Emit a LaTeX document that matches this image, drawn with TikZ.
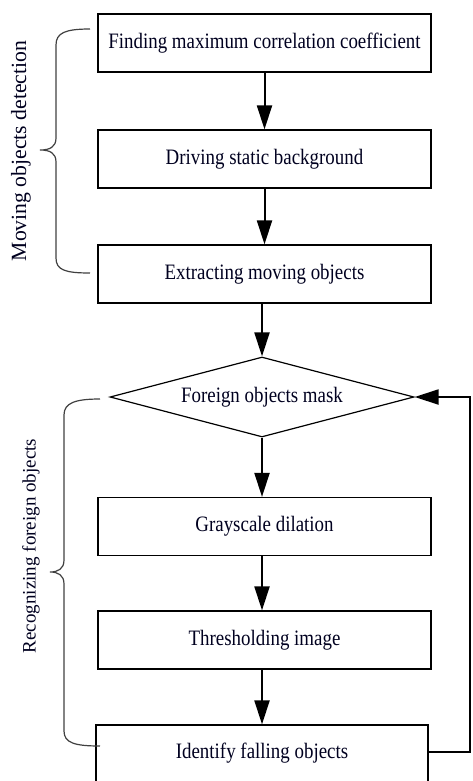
\documentclass[tikz,border=0pt]{standalone}
\usepackage{fontspec}
\setmainfont{Liberation Serif}
\newfontfamily\condfont[FakeStretch=0.86]{Liberation Serif}
\usetikzlibrary{shapes.geometric,arrows.meta}
\begin{document}
\begin{tikzpicture}[x=1pt,y=1pt,
  txt/.style={font=\condfont\fontsize{22}{24}\selectfont, text=black!88!blue},
  stepbox/.style={txt, draw, line width=1.2pt, minimum width=333pt, minimum height=58pt, inner sep=0pt},
  decision/.style={txt, draw, line width=1.2pt, diamond, aspect=3.8, minimum width=304pt, minimum height=80pt, inner sep=0pt},
  flow/.style={line width=2pt, -{Triangle[length=24pt,width=15pt]}},
  brace/.style={line width=1.2pt, draw=black!75},
  side/.style={text=black!88!blue, rotate=90}]
\useasboundingbox (0,0) rectangle (472,-781);
\node[stepbox] (b1) at (264.5,-43) {Finding maximum correlation coefficient};
\node[stepbox] (b2) at (264.5,-159) {Driving static background};
\node[stepbox] (b3) at (264.5,-274) {Extracting moving objects};
\node[decision] (d) at (262,-397) {Foreign objects mask};
\node[stepbox] (b4) at (264.5,-526.5) {Grayscale dilation};
\node[stepbox] (b5) at (264.5,-640) {Thresholding image};
\node[stepbox, minimum width=332pt, minimum height=57pt] (b6) at (262,-753.5) {Identify falling objects};
\draw[flow] (b1) -- (b2);
\draw[flow] (b2) -- (b3);
\draw[flow] (b3.south -| d.north) -- (d.north);
\draw[flow] (d.south) -- (b4.north -| d.south);
\draw[flow] (b4.south -| d.south) -- (b5.north -| d.south);
\draw[flow] (b5.south -| d.south) -- (b6.north -| d.south);
\coordinate (r) at (470,0);
\draw[flow] (b6.east |- 0,-752) -- (r |- 0,-752) -- (r |- d.east) -- (d.east);
\draw[brace] (90,-29) .. controls (65,-29) and (56,-33) .. (56,-45) -- (56,-138) .. controls (56,-147) and (50,-150) .. (40,-150) .. controls (50,-150) and (56,-153) .. (56,-162) -- (56,-258) .. controls (56,-270) and (65,-273) .. (90,-273);
\draw[brace] (100,-399) .. controls (75,-399) and (64,-403) .. (64,-415) -- (64,-560) .. controls (64,-569) and (58,-572) .. (50,-572) .. controls (58,-572) and (64,-575) .. (64,-584) -- (64,-731) .. controls (64,-743) and (75,-746) .. (100,-746);
\node[side, font=\fontsize{21.7}{24}\selectfont] (l1) at (21,-151) {Moving objects detection};
\node[side, font=\fontsize{19}{22}\selectfont] (l2) at (31,-546) {Recognizing foreign objects};
\end{tikzpicture}
\end{document}
